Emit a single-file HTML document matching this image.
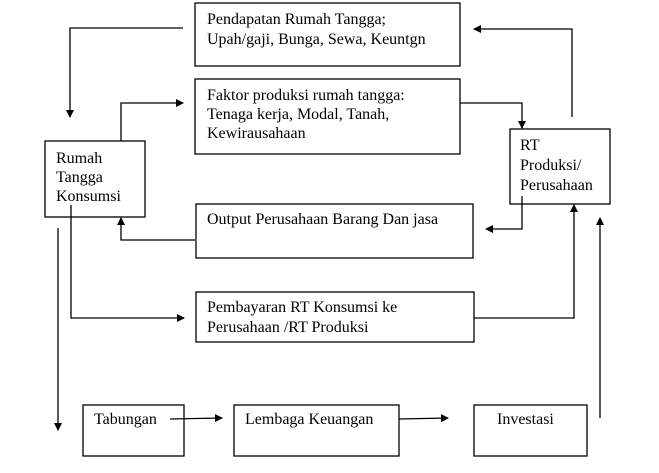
<!DOCTYPE html>
<html><head><style>
body{margin:0;background:#fff;}
svg text{font-family:"Liberation Serif",serif;font-size:16px;fill:#000;}
</style></head><body>
<svg width="659" height="468" viewBox="0 0 659 468" xmlns="http://www.w3.org/2000/svg">
<defs><marker id="a" markerWidth="8" markerHeight="8" refX="7" refY="4" orient="auto" markerUnits="userSpaceOnUse"><path d="M0,0 L8,4 L0,8z" fill="#000"/></marker></defs>
<g fill="none" stroke="#000" stroke-width="1.3">
<rect x="195" y="3" width="265" height="63"/>
<rect x="195" y="79" width="265" height="75"/>
<rect x="45" y="141" width="100" height="76"/>
<rect x="510" y="129" width="100" height="75"/>
<rect x="196" y="204" width="277" height="54"/>
<rect x="196" y="292" width="278" height="50"/>
<rect x="83" y="405" width="101" height="51"/>
<rect x="234" y="405" width="165" height="51"/>
<rect x="474" y="405" width="113" height="51"/>
<polyline points="183,28 70,28 70,117" marker-end="url(#a)"/>
<polyline points="121,141 121,103 183,103" marker-end="url(#a)"/>
<polyline points="460,103 522,103 522,128" marker-end="url(#a)"/>
<polyline points="572,117 572,29 474,29" marker-end="url(#a)"/>
<polyline points="522,196 522,229 486,229" marker-end="url(#a)"/>
<polyline points="195,240 121,240 121,218" marker-end="url(#a)"/>
<polyline points="71,205 71,318 184,318" marker-end="url(#a)"/>
<polyline points="474,318 574,318 574,205" marker-end="url(#a)"/>
<polyline points="58,228 58,430" marker-end="url(#a)"/>
<polyline points="600,418 600,218" marker-end="url(#a)"/>
<line x1="170" y1="419" x2="222" y2="418" marker-end="url(#a)"/>
<line x1="399" y1="419" x2="448" y2="418" marker-end="url(#a)"/>
</g>
<text x="207" y="24">Pendapatan Rumah Tangga;</text>
<text x="207" y="44">Upah/gaji, Bunga, Sewa, Keuntgn</text>
<text x="207" y="100">Faktor produksi rumah tangga:</text>
<text x="207" y="119">Tenaga kerja, Modal, Tanah,</text>
<text x="207" y="138">Kewirausahaan</text>
<text x="56" y="163">Rumah</text>
<text x="56" y="182">Tangga</text>
<text x="56" y="201">Konsumsi</text>
<text x="520" y="150">RT</text>
<text x="520" y="170">Produksi/</text>
<text x="520" y="190">Perusahaan</text>
<text x="207" y="224">Output Perusahaan Barang Dan jasa</text>
<text x="207" y="312">Pembayaran RT Konsumsi ke</text>
<text x="207" y="332">Perusahaan /RT Produksi</text>
<text x="94" y="424">Tabungan</text>
<text x="245" y="424">Lembaga Keuangan</text>
<text x="497" y="424">Investasi</text>
</svg>
</body></html>
